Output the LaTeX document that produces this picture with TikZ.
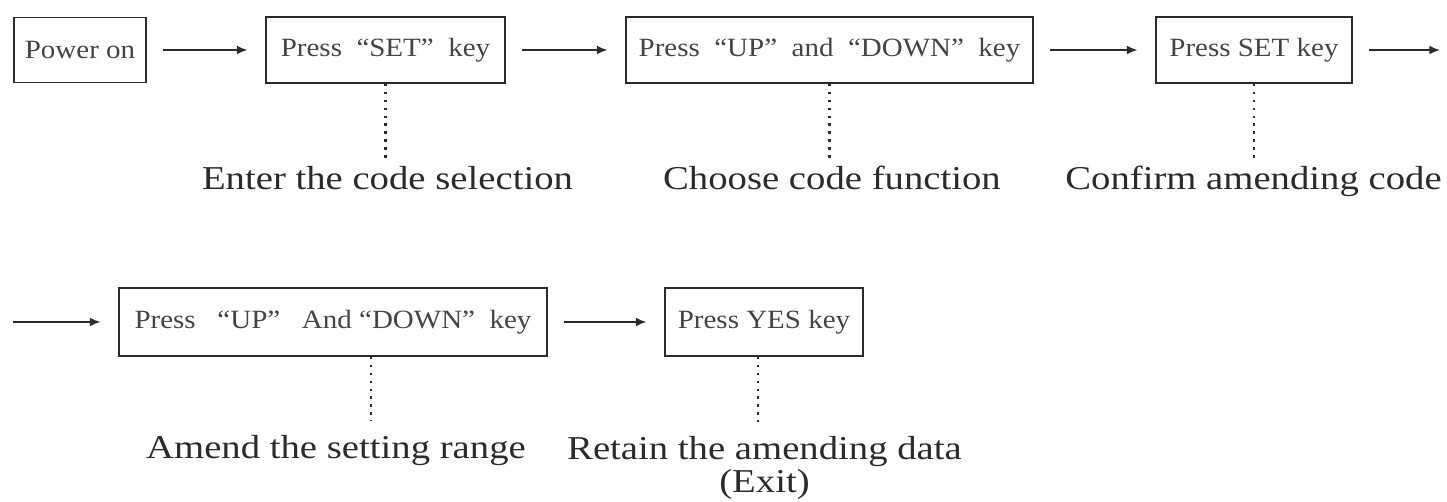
\documentclass[tikz,border=0pt]{standalone}
\usepackage{fontspec}
\setmainfont{Liberation Serif}
\usetikzlibrary{arrows.meta}

\definecolor{ink}{HTML}{2B2B2B}
\definecolor{boxink}{HTML}{444444}

\begin{document}
\begin{tikzpicture}[x=0.02cm,y=-0.02cm,
  keybox/.style={draw=ink,line width=1.1pt,inner sep=0pt,minimum height=1.32cm,text=boxink,
    font=\fontsize{15}{18}\selectfont\addfontfeatures{FakeStretch=1.1}},
  note/.style={inner sep=0pt,text=ink,align=center,
    font=\fontsize{19}{19}\selectfont\addfontfeatures{FakeStretch=1.16}},
  flow/.style={draw=ink,line width=1pt,-{Latex[length=6pt,width=5pt]},shorten <=9pt,shorten >=10pt},
  lead/.style={draw=ink,line width=1.4pt,dash pattern=on 1.4pt off 3.1pt}]
\useasboundingbox (0,0) rectangle (1447,502);

% first row
\node[keybox,minimum width=2.64cm,minimum height=1.3cm] (power) at (80,50) {Power on};
\node[keybox,minimum width=4.78cm] (setkey) at (385.5,50) {Press~~``SET''~~key};
\node[keybox,minimum width=8.14cm] (updown) at (829.5,50) {Press~~``UP''~~and~~``DOWN''~~key};
\node[keybox,minimum width=3.92cm] (confirm) at (1254,50) {Press SET key};
\coordinate (rowend) at (1440,50);

\node[note,anchor=base] (enterNote) at (387.5,190) {Enter the code selection};
\node[note,anchor=base] (chooseNote) at (832,190) {Choose code function};
\node[note,anchor=base] (confirmNote) at (1253.5,190) {Confirm amending code};

\draw[flow] (power) -- (setkey);
\draw[flow] (setkey) -- (updown);
\draw[flow] (updown) -- (confirm);
\draw[flow,shorten >=0pt] (confirm) -- (rowend);

\draw[lead,shorten >=0.1cm] (setkey.south) -- (setkey.south |- enterNote.north);
\draw[lead,shorten >=0.1cm] (updown.south) -- (updown.south |- chooseNote.north);
\draw[lead,shorten >=0.1cm] (confirm.south) -- (confirm.south |- confirmNote.north);

% second row
\coordinate (rowstart) at (13,322);
\node[keybox,minimum width=8.56cm,minimum height=1.36cm] (updown2) at (333,322) {Press~~~``UP''~~~And~``DOWN''~~key};
\node[keybox,minimum width=3.96cm,minimum height=1.36cm] (yes) at (764,322) {Press YES key};

\node[note,anchor=base] (amendNote) at (336,459) {Amend the setting range};
\node[note,anchor=north] (retainNote) at (764.5,436) {Retain the amending data\\(Exit)};

\draw[flow,shorten <=0pt] (rowstart) -- (updown2);
\draw[flow] (updown2) -- (yes);

\draw[lead,shorten >=0.28cm] ([xshift=0.76cm]updown2.south) -- ([xshift=0.76cm]updown2.south |- amendNote.north);
\draw[lead,shorten >=0.28cm] ([xshift=-0.12cm]yes.south) -- ([xshift=-0.12cm]yes.south |- retainNote.north);
\end{tikzpicture}
\end{document}
